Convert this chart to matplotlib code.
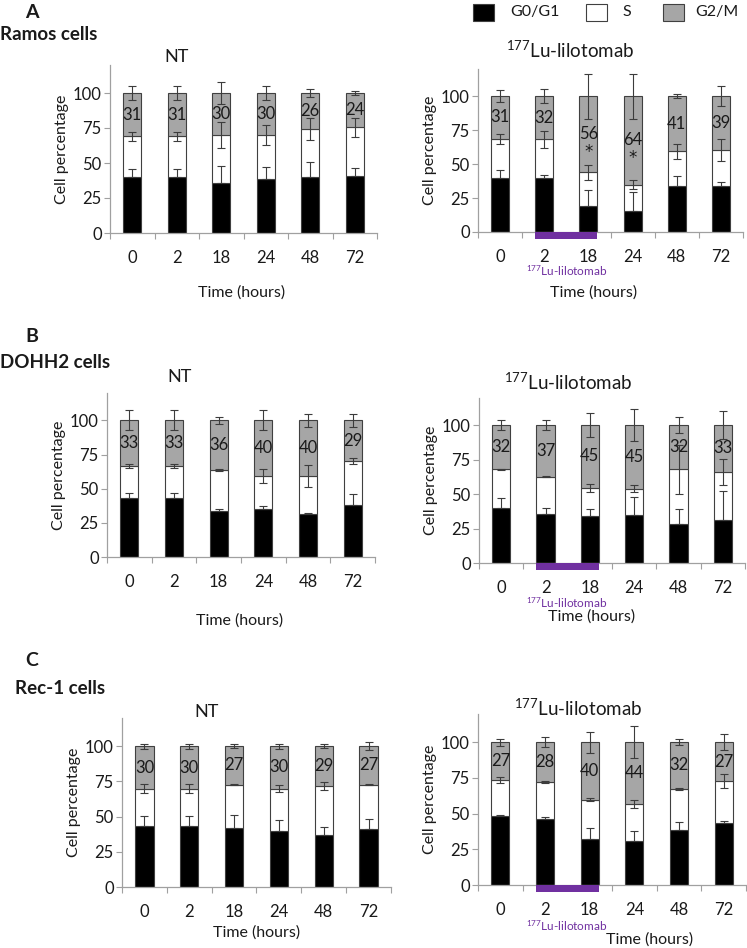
import matplotlib
matplotlib.use("Agg")
import matplotlib.pyplot as plt
from matplotlib.patches import Rectangle
import numpy as np

plt.rcParams['font.family'] = ['Lato', 'DejaVu Sans']
plt.rcParams['mathtext.fontset'] = 'custom'
plt.rcParams['mathtext.rm'] = 'Lato'
plt.rcParams['mathtext.it'] = 'Lato'

times = ['0', '2', '18', '24', '48', '72']
phases = ['G0/G1', 'S', 'G2/M']

# ---- Panel A: Ramos cells ----
ramos_nt_g1 = [40, 40, 35.6, 38.5, 40, 40.6]
ramos_nt_s = [29, 29, 34.4, 31.5, 34.3, 34.9]
ramos_nt_g2 = [31, 31, 30, 30, 25.7, 24.5]
ramos_nt_g1_err = [6, 6, 12, 9, 11, 6]
ramos_nt_s_err = [3.5, 3.5, 9, 7, 8, 7]
ramos_nt_g2_err = [5, 5, 8, 4.7, 3, 1.7]
ramos_nt_lab = ['31', '31', '30', '30', '26', '24']

ramos_lu_g1 = [39.7, 39.5, 18.9, 15.7, 33.6, 33.6]
ramos_lu_s = [28.9, 28.6, 25, 19.1, 25.7, 26.9]
ramos_lu_g2 = [31.4, 31.9, 56.1, 65.2, 40.7, 39.5]
ramos_lu_g1_err = [6, 2.5, 12, 13.5, 7.4, 3]
ramos_lu_s_err = [3.7, 6, 5.3, 3.3, 5.4, 8.2]
ramos_lu_g2_err = [4.6, 5, 16.5, 16.5, 1.3, 7.6]
ramos_lu_lab = ['31', '32', '56', '64', '41', '39']
ramos_lu_sig = ['', '', '*', '*', '', '']

# ---- Panel B: DOHH2 cells ----
dohh2_nt_g1 = [43, 43, 33.3, 35.4, 31.8, 38.1]
dohh2_nt_s = [23.7, 23.7, 30.3, 24.1, 27.7, 32.3]
dohh2_nt_g2 = [33.3, 33.3, 36.4, 40.5, 40.5, 29.6]
dohh2_nt_g1_err = [3.6, 3.6, 2, 2.2, 0.7, 7.8]
dohh2_nt_s_err = [1.6, 1.6, 0.6, 5, 8, 2]
dohh2_nt_g2_err = [7.3, 7.3, 2.7, 7.3, 4.9, 5]
dohh2_nt_lab = ['33', '33', '36', '40', '40', '29']

dohh2_lu_g1 = [40.2, 35.8, 34.1, 35.1, 28.6, 31]
dohh2_lu_s = [27.8, 26.7, 20.4, 18.9, 39.2, 35.1]
dohh2_lu_g2 = [32, 37.5, 45.5, 46, 32.2, 33.9]
dohh2_lu_g1_err = [7, 4.2, 4.8, 12.4, 10.4, 21]
dohh2_lu_s_err = [0.5, 0.3, 3, 2.2, 18, 9.6]
dohh2_lu_g2_err = [3.6, 3.9, 8.8, 11.4, 5.6, 10.4]
dohh2_lu_lab = ['32', '37', '45', '45', '32', '33']

# ---- Panel C: Rec-1 cells ----
rec1_nt_g1 = [43.1, 43.1, 41.9, 39.6, 37.2, 41]
rec1_nt_s = [26.6, 26.6, 30.8, 30.3, 34.6, 31.7]
rec1_nt_g2 = [30.3, 30.3, 27.3, 30.1, 28.2, 27.3]
rec1_nt_g1_err = [7.4, 7.4, 9, 8.3, 5.5, 7]
rec1_nt_s_err = [3.3, 3.3, 0.5, 2.5, 2.8, 0.5]
rec1_nt_g2_err = [1.8, 1.8, 1.2, 1.8, 1.5, 3]
rec1_nt_lab = ['30', '30', '27', '30', '29', '27']

rec1_lu_g1 = [48.4, 46.5, 32.1, 30.7, 38.4, 43.5]
rec1_lu_s = [24.9, 25.6, 27.7, 25.8, 29, 29.1]
rec1_lu_g2 = [26.7, 27.9, 40.2, 43.5, 32.6, 27.4]
rec1_lu_g1_err = [0.5, 1.4, 8, 7.2, 6, 1.6]
rec1_lu_s_err = [2.2, 0.7, 0.8, 2.7, 0.6, 5]
rec1_lu_g2_err = [2.4, 3.5, 7.4, 11.2, 1.9, 5.6]
rec1_lu_lab = ['27', '28', '40', '44', '32', '27']

W, H = 747, 948
fig = plt.figure(figsize=(W / 100, H / 100), dpi=100)

C_G1 = '#000000'
C_S = '#ffffff'
C_G2 = '#a6a6a6'
EDGE = '#404040'
ERR = '#3c3c3c'
SPINE = '#a0a0a0'
PURPLE = '#7030a0'
TXT = '#1a1a1a'
FS = 12


def fx(px):
    return px / W


def fy(py):
    return 1 - py / H


def draw_panel(rect, g1, s, g2, e1, es, e2, labels, sig=None):
    ax = fig.add_axes(rect)
    x = np.arange(len(times))
    g1 = np.array(g1); s = np.array(s); g2 = np.array(g2)
    bw = 0.41
    ax.bar(x, g1, bw, color=C_G1, edgecolor=EDGE, linewidth=0.8, zorder=2)
    ax.bar(x, s, bw, bottom=g1, color=C_S, edgecolor=EDGE, linewidth=0.8, zorder=2)
    ax.bar(x, g2, bw, bottom=g1 + s, color=C_G2, edgecolor=EDGE, linewidth=0.8, zorder=2)
    ekw = dict(fmt='none', ecolor=ERR, elinewidth=0.8, capsize=3.2, capthick=0.8, zorder=3)
    ax.errorbar(x, g1, yerr=[np.zeros(len(x)), e1], **ekw)
    ax.errorbar(x, g1 + s, yerr=es, **ekw)
    ax.errorbar(x, g1 + s + g2, yerr=e2, **ekw)
    for i, lab in enumerate(labels):
        yc = (g1[i] + s[i] + 100) / 2
        ax.text(x[i], yc, lab, ha='center', va='center', fontsize=12, color=TXT, zorder=4)
        if sig is not None and sig[i]:
            ax.text(x[i], yc - 13, sig[i], ha='center', va='center', fontsize=12,
                    family='DejaVu Sans', color=TXT, zorder=4)
    ax.set_xlim(-0.5, len(times) - 0.5)
    ax.set_ylim(0, 120)
    ax.set_yticks([0, 25, 50, 75, 100])
    ax.set_xticks(x)
    ax.set_xticklabels(times)
    ax.set_xticks(np.arange(-0.5, len(times)), minor=True)
    ax.tick_params(axis='x', which='major', length=0, pad=12, labelsize=FS, colors=TXT)
    ax.tick_params(axis='x', which='minor', length=4, width=0.8, color=SPINE, direction='out')
    ax.tick_params(axis='y', length=4, width=0.8, color=SPINE, labelsize=FS, labelcolor=TXT, pad=2)
    for sp in ['top', 'right']:
        ax.spines[sp].set_visible(False)
    for sp in ['left', 'bottom']:
        ax.spines[sp].set_color(SPINE)
        ax.spines[sp].set_linewidth(0.9)
    ax.set_ylabel('Cell percentage', fontsize=11.5, color=TXT, labelpad=3)
    return ax


def treatment_bar(ax):
    ax.add_patch(Rectangle((0.795, -5.2), 1.41, 5.2, facecolor=PURPLE, edgecolor='none',
                           clip_on=False, zorder=5))


LU = r'$^{177}$Lu-lilotomab'

# Panel A
axA1 = draw_panel([fx(110), fy(233), fx(267), 168 / H], ramos_nt_g1, ramos_nt_s, ramos_nt_g2,
                  ramos_nt_g1_err, ramos_nt_s_err, ramos_nt_g2_err, ramos_nt_lab)
axA2 = draw_panel([fx(478), fy(232), fx(265), 163 / H], ramos_lu_g1, ramos_lu_s, ramos_lu_g2,
                  ramos_lu_g1_err, ramos_lu_s_err, ramos_lu_g2_err, ramos_lu_lab, ramos_lu_sig)
treatment_bar(axA2)

# Panel B
axB1 = draw_panel([fx(107), fy(557), fx(268), 164 / H], dohh2_nt_g1, dohh2_nt_s, dohh2_nt_g2,
                  dohh2_nt_g1_err, dohh2_nt_s_err, dohh2_nt_g2_err, dohh2_nt_lab)
axB2 = draw_panel([fx(479), fy(563), fx(266), 165.5 / H], dohh2_lu_g1, dohh2_lu_s, dohh2_lu_g2,
                  dohh2_lu_g1_err, dohh2_lu_s_err, dohh2_lu_g2_err, dohh2_lu_lab)
treatment_bar(axB2)

# Panel C
axC1 = draw_panel([fx(122), fy(887), fx(269), 169 / H], rec1_nt_g1, rec1_nt_s, rec1_nt_g2,
                  rec1_nt_g1_err, rec1_nt_s_err, rec1_nt_g2_err, rec1_nt_lab)
axC2 = draw_panel([fx(478), fy(885), fx(268), 171.5 / H], rec1_lu_g1, rec1_lu_s, rec1_lu_g2,
                  rec1_lu_g1_err, rec1_lu_s_err, rec1_lu_g2_err, rec1_lu_lab)
treatment_bar(axC2)

# panel letters & cell line names
for (lx, ly, letter), (nx, ny, name) in [((32, 12, 'A'), (0, 35, 'Ramos cells')),
                                         ((32, 337, 'B'), (0, 363, 'DOHH2 cells')),
                                         ((32, 660, 'C'), (15, 688, 'Rec-1 cells'))]:
    fig.text(fx(lx), fy(ly), letter, ha='center', va='center', fontsize=14, fontweight='bold', color=TXT)
    fig.text(fx(nx), fy(ny), name, ha='left', va='center', fontsize=13.5, fontweight='bold', color=TXT)

# subplot titles
for (x, y) in [(177, 57), (180, 377), (207, 712)]:
    fig.text(fx(x), fy(y), 'NT', ha='center', va='center', fontsize=13, color=TXT)
for (x, y) in [(570, 50), (568, 382), (578, 708)]:
    fig.text(fx(x), fy(y), LU, ha='center', va='center', fontsize=13.5, color=TXT)

# x-axis titles
for (x, y) in [(242, 293), (594, 293), (240, 621), (592, 617), (257, 933), (650, 940)]:
    fig.text(fx(x), fy(y), 'Time (hours)', ha='center', va='center', fontsize=11.5, color=TXT)

# treatment labels
for (x, y) in [(567, 271), (567, 603), (567, 926)]:
    fig.text(fx(x), fy(y), LU, ha='center', va='center', fontsize=8.5, color=PURPLE)

# legend
leg_items = [(473, C_G1, 'G0/G1', 510), (586, C_S, 'S', 622), (663, C_G2, 'G2/M', 695)]
for (sx, col, lab, tx) in leg_items:
    fig.patches.append(Rectangle((fx(sx), fy(21)), fx(21), 17 / H, transform=fig.transFigure,
                                 facecolor=col, edgecolor=EDGE, linewidth=0.8))
    fig.text(fx(tx), fy(12), lab, ha='left', va='center', fontsize=11.5, color=TXT)

fig.savefig('out.png', dpi=100)
